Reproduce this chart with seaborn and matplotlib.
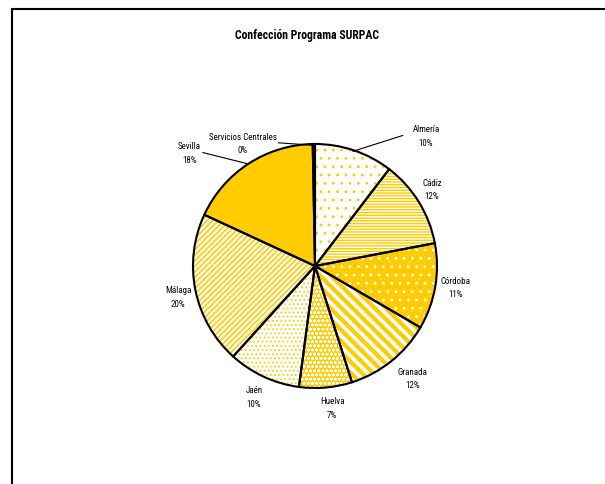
import matplotlib
matplotlib.use("Agg")
import matplotlib.pyplot as plt
import seaborn as sns

provincias = ["Almería", "Cádiz", "Córdoba", "Granada", "Huelva", "Jaén",
              "Málaga", "Sevilla", "Servicios Centrales"]
porcentajes = [10.4, 11.6, 11.4, 11.7, 7.0, 9.6, 20.2, 17.8, 0.3]
etiquetas_pct = ["10%", "12%", "11%", "12%", "7%", "10%", "20%", "18%", "0%"]

sns.set_style("white")
plt.rcParams["font.family"] = ["Liberation Sans Narrow", "Roboto Condensed",
                               "Liberation Sans", "DejaVu Sans"]
plt.rcParams["text.color"] = "black"

oro = "#FFCC00"
# (fondo, trama, color de trama, grosor de trama)
estilos = [
    ("white", "..", oro, 0.8),
    ("white", "------", oro, 1.0),
    (oro, "..", "white", 0.8),
    ("white", "\\\\\\", oro, 3.0),
    (oro, "oooo", "white", 0.8),
    ("white", "....", oro, 0.8),
    ("white", "//////", oro, 1.2),
    (oro, None, oro, 1.0),
    (oro, None, oro, 1.0),
]

# posiciones de etiquetas (en unidades del radio) y lineas guia
pos_etq = [(0.91, 1.07), (0.96, 0.63), (1.15, -0.17), (0.80, -0.92),
           (0.14, -1.16), (-0.50, -1.07), (-1.12, -0.25), (-1.03, 0.93),
           (-0.59, 1.01)]
guias = {0: [(0.72, 1.07), (0.31, 0.94)],
         7: [(-0.92, 0.93), (-0.56, 0.84)],
         8: [(-0.30, 1.01), (-0.02, 0.99)]}

W, H = 605, 485
fig = plt.figure(figsize=(W / 100, H / 100), dpi=100)
fondo = fig.add_axes([0, 0, 1, 1])
fondo.set_xlim(0, W)
fondo.set_ylim(H, 0)
fondo.axis("off")
fondo.plot([12, W], [10, 10], color="black", lw=1.5)
fondo.plot([12, 12], [10, H], color="black", lw=1.5)
fondo.text(307, 36, "Confección Programa SURPAC", ha="center", va="center",
           fontsize=8.5, fontweight="bold")

cx, cy, r = 315, 267, 122
ax = fig.add_axes([(cx - r) / W, (H - cy - r) / H, 2 * r / W, 2 * r / H])
ax.set_xlim(-1, 1)
ax.set_ylim(-1, 1)
ax.axis("off")

# capa 1: relleno y trama
cuñas, _ = ax.pie(porcentajes, startangle=90, counterclock=False, radius=1)
for c, (fc, hatch, hc, hlw) in zip(cuñas, estilos):
    c.set_facecolor(fc)
    c.set_edgecolor(hc)
    c.set_linewidth(0)
    if hatch:
        c.set_hatch(hatch)
        if hasattr(c, "set_hatch_linewidth"):
            c.set_hatch_linewidth(hlw)
# capa 2: bordes negros
bordes, _ = ax.pie(porcentajes, startangle=90, counterclock=False, radius=1,
                   wedgeprops=dict(fill=False, edgecolor="black", linewidth=1.5))
ax.set_xlim(-1, 1)
ax.set_ylim(-1, 1)

for i, (nombre, pct) in enumerate(zip(provincias, etiquetas_pct)):
    x, y = pos_etq[i]
    ax.text(x, y, f"{nombre}\n{pct}", ha="center", va="center",
            fontsize=6.5, linespacing=1.6, clip_on=False)
for i, pts in guias.items():
    xs, ys = zip(*pts)
    ax.plot(xs, ys, color="black", lw=0.8, clip_on=False)

fig.savefig("out.png", dpi=100)
